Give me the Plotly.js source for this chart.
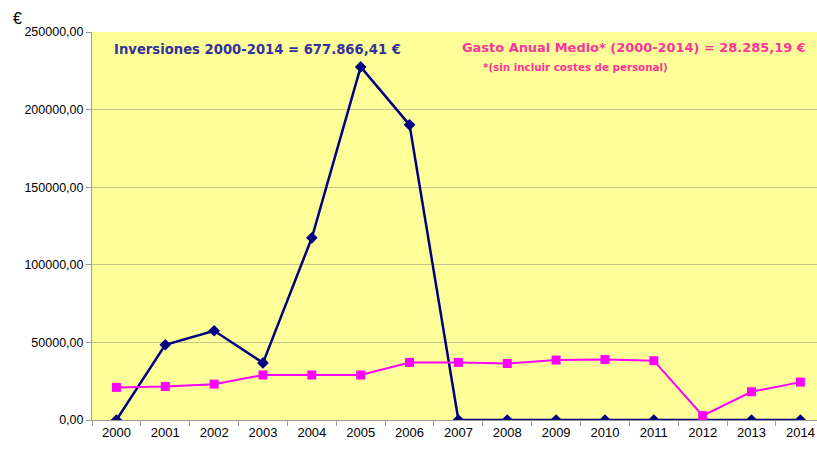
<!DOCTYPE html>
<html>
<head>
<meta charset="utf-8">
<script src="https://cdn.plot.ly/plotly-3.0.1.min.js"></script>
<style>html,body{margin:0;padding:0;background:#fff;}#chart{width:817px;height:449px;}</style>
</head>
<body>
<div id="chart"></div>
<script>
const years = ["2000","2001","2002","2003","2004","2005","2006","2007","2008","2009","2010","2011","2012","2013","2014"];
const inversiones = [0, 48500, 57500, 36800, 117400, 227500, 190166, 0, 0, 0, 0, 0, 0, 0, 0];
const gasto = [21000, 21600, 23100, 29000, 29000, 29000, 37100, 37100, 36400, 38600, 39000, 38200, 2800, 18200, 24400];
const yTicks = [0, 50000, 100000, 150000, 200000, 250000];
const yTickText = ["0,00", "50000,00", "100000,00", "150000,00", "200000,00", "250000,00"];

const traces = [
  {x: years, y: inversiones, type: "scatter", mode: "lines+markers", name: "Inversiones",
   line: {color: "#000080", width: 2.5}, marker: {symbol: "diamond", size: 9, color: "#000080"}},
  {x: years, y: gasto, type: "scatter", mode: "lines+markers", name: "Gasto",
   line: {color: "#FF00FF", width: 2}, marker: {symbol: "square", size: 9, color: "#FF00FF"}}
];

const layout = {
  width: 817, height: 449,
  margin: {l: 92, r: 0, t: 32, b: 29},
  paper_bgcolor: "#ffffff",
  plot_bgcolor: "#FFFF99",
  showlegend: false,
  font: {family: "Liberation Sans, Arial, sans-serif", color: "#000"},
  xaxis: {
    type: "category", range: [-0.5, 14.34],
    tickson: "boundaries", ticks: "outside", ticklen: 5, tickcolor: "#999",
    showline: true, linecolor: "#999", linewidth: 1,
    showgrid: false, zeroline: false,
    tickfont: {size: 13, family: "Liberation Sans, Arial, sans-serif"}
  },
  yaxis: {
    range: [0, 250000], tickvals: yTicks, ticktext: yTickText,
    ticks: "outside", ticklen: 5, tickcolor: "#999",
    showline: true, linecolor: "#999", linewidth: 1,
    showgrid: true, gridcolor: "#C4C48E", gridwidth: 1, zeroline: false,
    tickfont: {size: 12.5, family: "Liberation Sans Narrow, Liberation Sans, Arial, sans-serif"}
  },
  annotations: [
    {xref: "paper", yref: "paper", x: 0.0276, y: 0.954, xanchor: "left", yanchor: "middle",
     text: "<b>Inversiones 2000-2014 = 677.866,41 €</b>", showarrow: false,
     font: {size: 13.2, color: "#333399", family: "DejaVu Sans, Verdana, sans-serif"}},
    {xref: "paper", yref: "paper", x: 0.5076, y: 0.959, xanchor: "left", yanchor: "middle",
     text: "<b>Gasto Anual Medio* (2000-2014) = 28.285,19 €</b>", showarrow: false,
     font: {size: 12.95, color: "#FF3399", family: "DejaVu Sans, Verdana, sans-serif"}},
    {xref: "paper", yref: "paper", x: 0.5366, y: 0.91, xanchor: "left", yanchor: "middle",
     text: "<b>*(sin incluir costes de personal)</b>", showarrow: false,
     font: {size: 10.3, color: "#FF3399", family: "DejaVu Sans, Verdana, sans-serif"}},
    {xref: "paper", yref: "paper", x: -0.112, y: 1.036, xanchor: "left", yanchor: "middle",
     text: "€", showarrow: false,
     font: {size: 16, color: "#000", family: "Liberation Sans, Arial, sans-serif"}}
  ]
};

Plotly.newPlot("chart", traces, layout, {displayModeBar: false, staticPlot: true});
</script>
</body>
</html>
